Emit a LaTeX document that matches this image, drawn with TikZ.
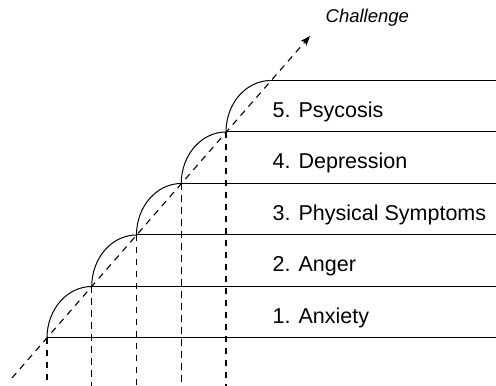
\documentclass[tikz,border=0pt]{standalone}
\usepackage{fontspec}
\setmainfont{Liberation Sans}
\usetikzlibrary{arrows.meta}
\begin{document}
\begin{tikzpicture}[x=1pt,y=1pt,
  solidline/.style={line width=1pt},
  dashline/.style={line width=1.1pt,dash pattern=on 6.5pt off 5.5pt},
  levellabel/.style={anchor=base west,inner sep=0pt,font=\fontsize{21.5}{24}\selectfont},
  axislabel/.style={anchor=base west,inner sep=0pt,font=\fontsize{18.5}{22}\selectfont\itshape}]
\useasboundingbox (0,0) rectangle (496,386);
% step points
\coordinate (s0) at (47,48);
\coordinate (s1) at (91.75,99.5);
\coordinate (s2) at (136.5,151);
\coordinate (s3) at (181.25,202.5);
\coordinate (s4) at (226,254);
\coordinate (s5) at (270.75,305.5);
% right ends
\coordinate (r0) at (496,48);
\coordinate (r1) at (496,99.5);
\coordinate (r2) at (496,151);
\coordinate (r3) at (496,202.5);
\coordinate (r4) at (496,254);
\coordinate (r5) at (496,305.5);
% bottom ends
\coordinate (b0) at (47,0);
\coordinate (b1) at (91.75,0);
\coordinate (b2) at (136.5,0);
\coordinate (b3) at (181.25,0);
\coordinate (b4) at (226,0);
% axis
\coordinate (a0) at (12,8);
\coordinate (a1) at (310,350);
% horizontal lines
\foreach \i in {0,...,5} \draw[solidline] (s\i) -- (r\i);
% arcs
\foreach \i in {0,...,4}
  \draw[solidline] (s\i) arc[start angle=180,end angle=90,x radius=44.75,y radius=51.5];
% vertical dashed
\foreach \i in {0,...,4} \draw[dashline] (s\i) -- (b\i);
% diagonal
\draw[dashline,-{Stealth[length=10pt,width=7.5pt,inset=2.5pt]}] (a0) -- (a1);
% labels
\node[levellabel] (l1) at (272.5,62.5) {1. Anxiety};
\node[levellabel] (l2) at (272.5,114) {2. Anger};
\node[levellabel] (l3) at (272.5,165.5) {3. Physical Symptoms};
\node[levellabel] (l4) at (272.5,217) {4. Depression};
\node[levellabel] (l5) at (272.5,268.5) {5. Psycosis};
\node[axislabel] (ch) at (325.5,363.3) {Challenge};
\end{tikzpicture}
\end{document}
